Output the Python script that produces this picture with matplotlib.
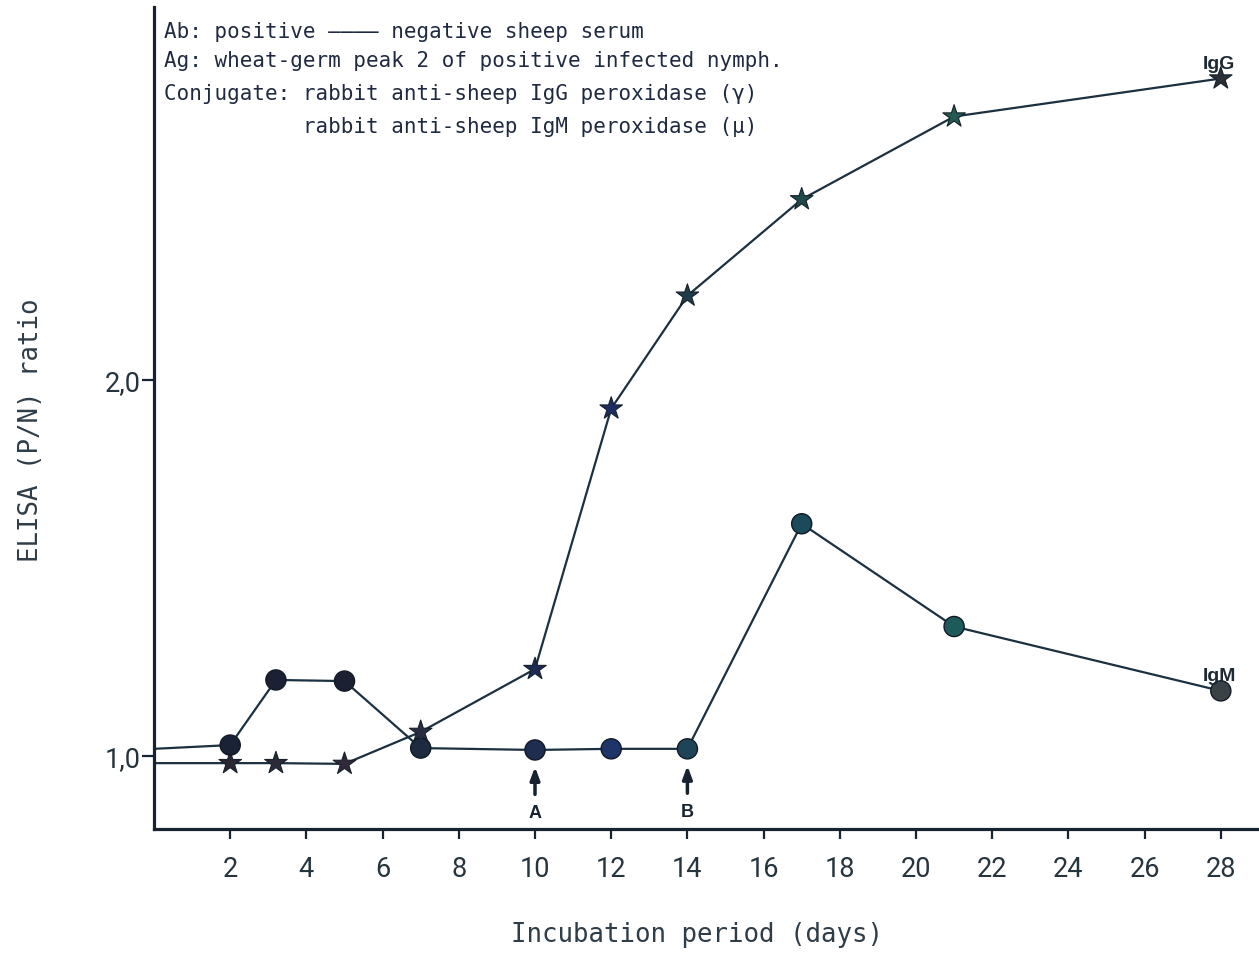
import matplotlib
matplotlib.use("Agg")
import matplotlib.pyplot as plt

# Incubation day of each measurement (day 0 = line start at the axis, no marker)
DAYS = [0, 2, 3.2, 5, 7, 10, 12, 14, 17, 21, 28]
IGG_RATIO = [0.981, 0.981, 0.981, 0.979, 1.064, 1.231, 1.923, 2.223, 2.479, 2.699, 2.800]
IGM_RATIO = [1.019, 1.029, 1.202, 1.199, 1.021, 1.016, 1.019, 1.019, 1.617, 1.344, 1.173]

# scanned print: marker ink drifts from navy to teal along the curves
IGG_COLORS = ["#2a2634", "#2a2a38", "#30293a", "#2a2d42", "#1f2a52",
              "#1e2c62", "#1f3d48", "#1f4a4c", "#245a52", "#2a3036"]
IGM_COLORS = ["#1a2236", "#1b2032", "#1b2032", "#1e2a40", "#1e2d50",
              "#1f3468", "#1e4458", "#1b4a5a", "#1e5a5a", "#3a4246"]

X_TICKS = list(range(2, 29, 2))
Y_TICKS = [1.0, 2.0]
Y_TICK_LABELS = ["1,0", "2,0"]
ARROW_MARKS = [("A", 10), ("B", 14)]

HEADER_LINES = [
    "Ab: positive \u2014\u2014\u2014\u2014 negative sheep serum",
    "Ag: wheat-germ peak 2 of positive infected nymph.",
    "Conjugate: rabbit anti-sheep IgG peroxidase (\u03b3)",
    "           rabbit anti-sheep IgM peroxidase (\u03bc)",
]
HEADER_Y_PX = [32, 61, 94, 127]

INK = "#172330"
LINE = "#1b3040"
MONO = ["DejaVu Sans Mono"]
NARROW = ["Roboto", "DejaVu Sans"]
BOLD = ["Liberation Sans", "DejaVu Sans"]

W, H = 1259, 954
fig = plt.figure(figsize=(W / 100, H / 100), dpi=100)
ax = fig.add_axes([154 / W, 1 - 830 / H, 1103 / W, 822 / H])

ax.set_xlim(0, 28.95)
ax.set_ylim(0.806, 2.99)

ax.plot(DAYS, IGG_RATIO, color=LINE, lw=1.6, zorder=2)
ax.plot(DAYS, IGM_RATIO, color=LINE, lw=1.6, zorder=2)
ax.scatter(DAYS[1:], IGG_RATIO[1:], marker="*", s=290, c=IGG_COLORS,
           edgecolors="#15202a", linewidths=0.8, zorder=3)
ax.scatter(DAYS[1:], IGM_RATIO[1:], marker="o", s=210, c=IGM_COLORS,
           edgecolors="#121a26", linewidths=1.0, zorder=4)

# series names next to the last points
for name, series in (("IgG", IGG_RATIO), ("IgM", IGM_RATIO)):
    ax.annotate(name, (DAYS[-1], series[-1]), xytext=(-1, 5), textcoords="offset points",
                ha="center", va="bottom", fontsize=14, fontweight="bold",
                family=BOLD, color="#1d2a33", zorder=5)

# arrows A / B under the IgM points
for label, day in ARROW_MARKS:
    base = IGM_RATIO[DAYS.index(day)]
    ax.annotate("", xy=(day, base - 0.045), xytext=(day, base - 0.118),
                arrowprops=dict(arrowstyle="-|>,head_length=0.75,head_width=0.28",
                                color=INK, lw=2.5, shrinkA=0, shrinkB=0))
    ax.text(day, base - 0.167, label, ha="center", va="center", fontsize=13,
            fontweight="bold", family=BOLD, color=INK)

for side in ("top", "right"):
    ax.spines[side].set_visible(False)
for side in ("left", "bottom"):
    ax.spines[side].set_linewidth(2.3)
    ax.spines[side].set_color(INK)

ax.set_xticks(X_TICKS)
ax.set_xticklabels([str(t) for t in X_TICKS], family=NARROW, fontsize=19.5,
                   color="#26343e")
ax.set_yticks(Y_TICKS)
ax.set_yticklabels(Y_TICK_LABELS, family=NARROW, fontsize=19.5, color="#26343e")
ax.tick_params(axis="x", direction="out", length=7, width=1.6, color=INK, pad=12)
ax.tick_params(axis="y", direction="out", length=8.5, width=1.6, color=INK, pad=1)

ax.set_xlabel("Incubation period (days)", family=MONO, fontsize=18.5, color="#2f3d48")
ax.xaxis.set_label_coords((697 - 154) / 1103, -(922 - 830) / 822)
ax.set_ylabel("ELISA (P/N) ratio", family=MONO, fontsize=18.5, color="#2f3d48")
ax.yaxis.set_label_coords(-(154 - 44) / 1103, (830 - 430) / 822)

for line, ypx in zip(HEADER_LINES, HEADER_Y_PX):
    fig.text(164 / W, 1 - ypx / H, line, family=MONO, fontsize=15,
             ha="left", va="center", color="#1f2a40")

fig.savefig("out.png", dpi=100, facecolor="white")
